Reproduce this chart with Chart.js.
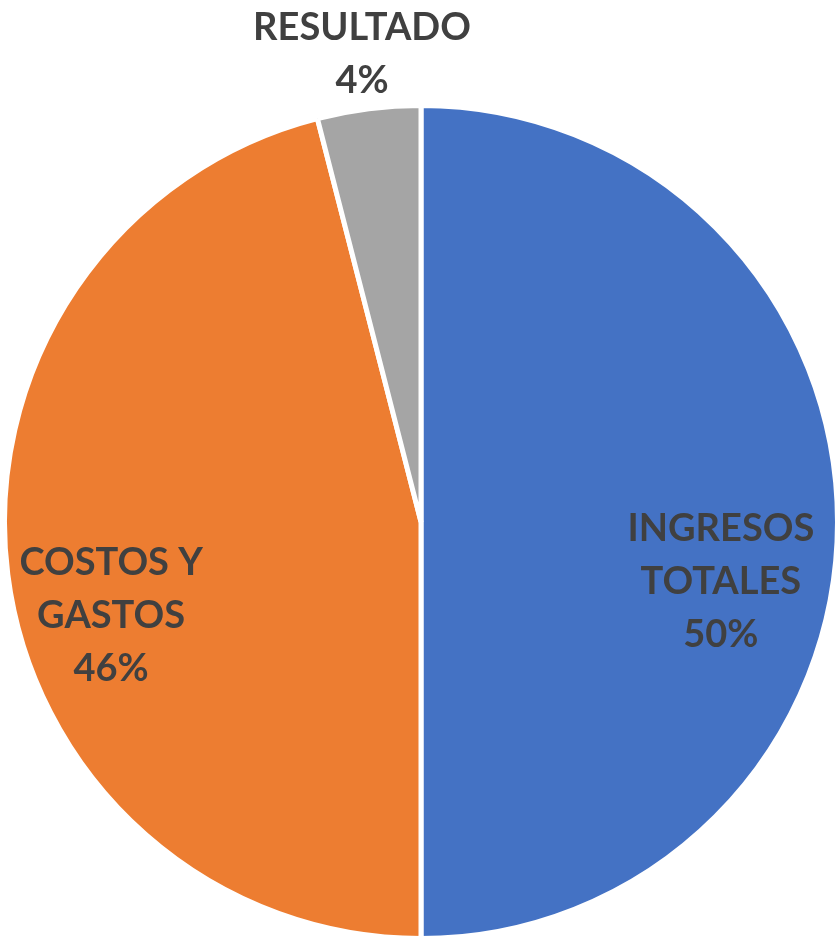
<!DOCTYPE html>
<html lang="es">
<head>
  <meta charset="UTF-8" />
  <title>Resultado</title>
  <script src="https://cdn.jsdelivr.net/npm/chart.js"></script>
  <style>
    html, body {
      margin: 0;
      padding: 0;
      background: #fff;
    }
    #wrap {
      width: 840px;
      height: 942px;
    }
  </style>
</head>
<body>
  <div id="wrap"><canvas id="chart"></canvas></div>

  <script>
    const categories = ["INGRESOS TOTALES", "COSTOS Y GASTOS", "RESULTADO"];
    const values = [50, 46, 4];
    const labelLines = [["INGRESOS", "TOTALES", "50%"], ["COSTOS Y", "GASTOS", "46%"], ["RESULTADO", "4%"]];
    const colors = ["#4472C4", "#ED7D31", "#A5A5A5"];

    // where each label block sits: fraction of radius along mid angle, plus vertical nudge
    const labelRadius = [0.72, 0.75, 1.13];
    const labelNudge = [60, 55, -1];

    const sliceLabels = {
      id: "sliceLabels",
      afterDatasetsDraw(chart) {
        const ctx = chart.ctx;
        const arcs = chart.getDatasetMeta(0).data;
        ctx.save();
        ctx.font = "bold 38px Lato, 'Open Sans', sans-serif";
        ctx.fillStyle = "#404040";
        ctx.textAlign = "center";
        ctx.textBaseline = "middle";
        const lineH = 53;
        arcs.forEach((arc, i) => {
          const p = arc.getProps(["x", "y", "startAngle", "endAngle", "outerRadius"], true);
          const mid = (p.startAngle + p.endAngle) / 2;
          const r = p.outerRadius * labelRadius[i];
          const cx = p.x + Math.cos(mid) * r;
          const cy = p.y + Math.sin(mid) * r + labelNudge[i];
          const lines = labelLines[i];
          const top = cy - (lines.length - 1) * lineH / 2;
          lines.forEach((t, k) => ctx.fillText(t, cx, top + k * lineH));
        });
        ctx.restore();
      }
    };

    new Chart(document.getElementById("chart"), {
      type: "pie",
      data: {
        labels: categories,
        datasets: [{
          data: values,
          backgroundColor: colors,
          borderColor: "#fff",
          borderWidth: 5
        }]
      },
      options: {
        responsive: true,
        maintainAspectRatio: false,
        animation: false,
        layout: { padding: { top: 102, bottom: 0, left: 2, right: 0 } },
        plugins: {
          legend: { display: false },
          tooltip: { enabled: false }
        }
      },
      plugins: [sliceLabels]
    });
  </script>
</body>
</html>
